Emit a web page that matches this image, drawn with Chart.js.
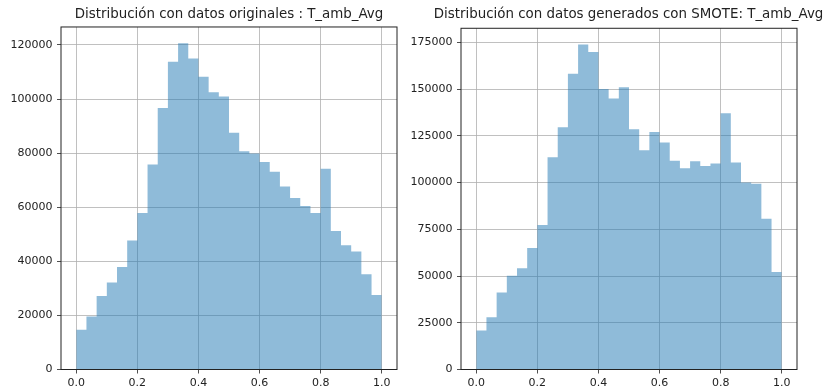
<!DOCTYPE html>
<html>
<head>
<meta charset="utf-8">
<script src="https://cdn.jsdelivr.net/npm/chart.js@4.4.1/dist/chart.umd.min.js"></script>
<style>
  html, body { margin: 0; padding: 0; background: #fff; overflow: hidden; }
  #wrap { position: relative; width: 827px; height: 389px; overflow: hidden; }
  canvas { position: absolute; top: 0; }
  #histOrig { left: 0; }
  #histSmote { left: 410px; }
</style>
</head>
<body>
<div id="wrap">
  <canvas id="histOrig" width="410" height="389"></canvas>
  <canvas id="histSmote" width="437" height="389"></canvas>
</div>
<script>
// --- datos (30 bins entre 0 y 1) ---
const binCount = 30;
const xTicks = [0, 0.2, 0.4, 0.6, 0.8, 1.0];

const origTitle = 'Distribución con datos originales : T_amb_Avg';
const origCounts = [
    14700, 19600, 27200, 32200, 37900, 47700, 57900, 75800, 96700, 113800,
    120600, 115000, 108200, 102500, 100900, 87500, 80700, 79900, 76700, 73100,
    67700, 63400, 60400, 57900, 74200, 51200, 45900, 43600, 35200, 27500
];
const origTicks = [0, 20000, 40000, 60000, 80000, 100000, 120000];

const smoteTitle = 'Distribución con datos generados con SMOTE: T_amb_Avg';
const smoteCounts = [
    20900, 28000, 41200, 50100, 54200, 65000, 77300, 113500, 129600, 158200,
    173800, 169800, 150000, 144900, 150900, 128500, 117300, 127000, 121400, 111600,
    107600, 111400, 108900, 110200, 137100, 110700, 100000, 99400, 80600, 52100
];
const smoteTicks = [0, 25000, 50000, 75000, 100000, 125000, 150000, 175000];

const FONT = 'DejaVu Sans';
const TEXT = '#222';

// marco completo del área de la gráfica (como matplotlib)
const framePlugin = {
    id: 'frame',
    afterDraw(chart) {
        const { ctx, chartArea: a } = chart;
        ctx.save();
        ctx.strokeStyle = '#222';
        ctx.lineWidth = 1;
        ctx.strokeRect(a.left, a.top, a.right - a.left, a.bottom - a.top);
        ctx.restore();
    }
};

// histograma como una sola área escalonada (sin costuras entre barras)
function histPoints(counts) {
    const pts = counts.map((c, i) => ({ x: i / binCount, y: c }));
    pts.push({ x: 1, y: counts[counts.length - 1] });
    return pts;
}

function makeHist(canvasId, title, counts, yTicks, yAxisWidth, rightSpace, titleOpts) {
    const yMax = Math.max(...counts) * 1.05;
    new Chart(document.getElementById(canvasId), {
        type: 'line',
        data: {
            datasets: [{
                data: histPoints(counts),
                stepped: 'before',
                fill: 'origin',
                backgroundColor: 'rgba(31, 119, 180, 0.5)',
                borderWidth: 0,
                pointRadius: 0
            }]
        },
        options: {
            responsive: false,
            animation: false,
            layout: { padding: 0 },
            plugins: {
                legend: { display: false },
                tooltip: { enabled: false },
                title: Object.assign({
                    display: true,
                    text: title,
                    color: TEXT,
                    font: { family: FONT, size: 13.4, weight: 'normal' }
                }, titleOpts)
            },
            scales: {
                x: {
                    type: 'linear',
                    min: -0.05,
                    max: 1.05,
                    afterBuildTicks: (s) => { s.ticks = xTicks.map(v => ({ value: v })); },
                    afterFit: (s) => { s.height = 19.5; },
                    border: { display: false },
                    grid: { color: '#b0b0b0', lineWidth: 0.8, tickColor: '#222', tickLength: 4 },
                    ticks: {
                        color: TEXT,
                        padding: 3,
                        maxRotation: 0,
                        font: { family: FONT, size: 11 },
                        callback: (v) => v.toFixed(1)
                    }
                },
                y: {
                    min: 0,
                    max: yMax,
                    afterBuildTicks: (s) => { s.ticks = yTicks.map(v => ({ value: v })); },
                    afterFit: (s) => { s.width = yAxisWidth; },
                    border: { display: false },
                    grid: { color: '#b0b0b0', lineWidth: 0.8, tickColor: '#222', tickLength: 4 },
                    ticks: {
                        color: TEXT,
                        padding: 4.5,
                        font: { family: FONT, size: 11 },
                        callback: (v) => String(v)
                    }
                },
                // eje vacío a la derecha: sólo reserva espacio (margen derecho)
                yRight: {
                    position: 'right',
                    afterFit: (s) => { s.width = rightSpace; },
                    border: { display: false },
                    grid: { display: false },
                    ticks: { display: false }
                }
            }
        },
        plugins: [framePlugin]
    });
}

makeHist('histOrig', origTitle, origCounts, origTicks, 61, 13,
    { fullSize: false, padding: { top: 6.5, bottom: 4.4 } });
// el título de la derecha es más ancho que el área: se centra sobre todo el lienzo
// (el lienzo sobresale a la derecha para que el centro coincida con el del área)
makeHist('histSmote', smoteTitle, smoteCounts, smoteTicks, 51, 50,
    { fullSize: true, padding: { top: 6.5, bottom: 5.7 } });
</script>
</body>
</html>
